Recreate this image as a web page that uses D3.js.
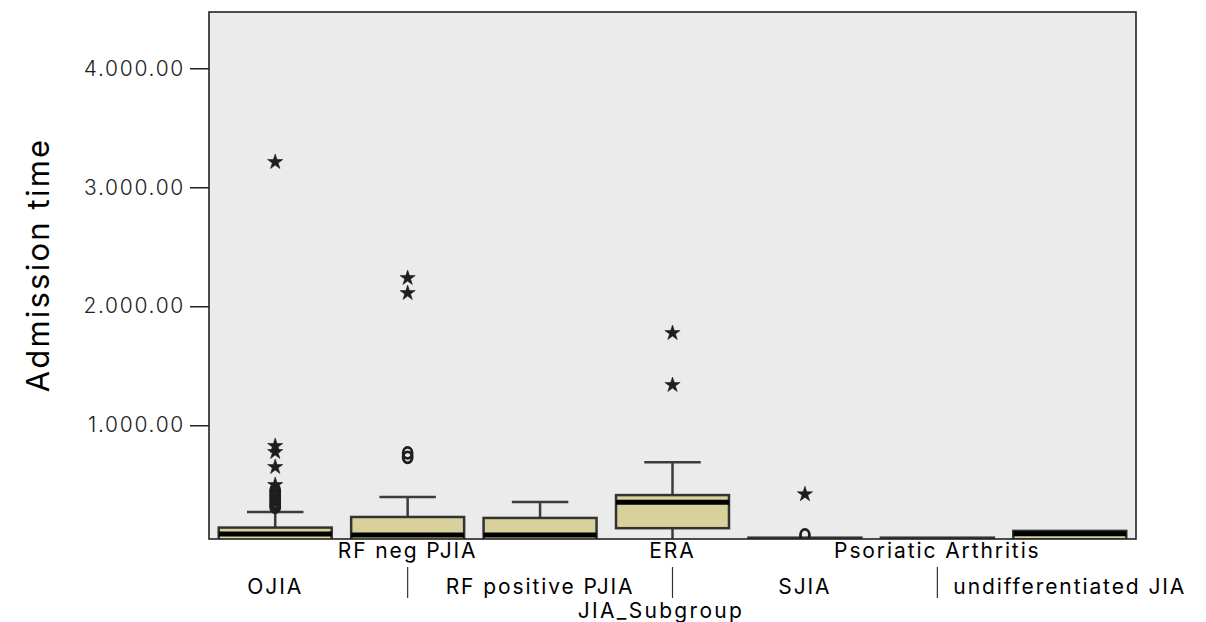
<!DOCTYPE html>
<html><head><meta charset="utf-8">
<script src="https://cdn.jsdelivr.net/npm/d3@7"></script>
<style>
html,body{margin:0;padding:0;background:#fff;}
svg{display:block;font-family:Inter,"Open Sans",sans-serif;}
</style></head>
<body><svg id="chart" width="1206" height="622"></svg>
<script>
const categories = ["OJIA","RF neg PJIA","RF positive PJIA","ERA","SJIA","Psoriatic Arthritis","undifferentiated JIA"];
const whiskerLow  = [0, 0, 0, 0, 0, 0, 0];
const q1          = [20, 20, 20, 135, 10, 10, 40];
const median      = [85, 78, 78, 352, 20, 20, 88];
const q3          = [140, 229, 221, 413, 55, 55, 112];
const whiskerHigh = [271, 397, 355, 690, 55, 55, 112];
const circleOutliers = [
  [456, 440, 414, 395, 372, 350, 330, 310],
  [767, 730],
  [],
  [],
  [78],
  [],
  []
];
const starOutliers = [
  [3212, 826, 775, 649, 498],
  [2237, 2111],
  [],
  [1775, 1338],
  [420],
  [],
  []
];
const yTicks = [1000, 2000, 3000, 4000];
const xTitle = "JIA_Subgroup";
const yTitle = "Admission time";

const svg = d3.select("#chart");
const L = 209, R = 1136, T = 12, B = 539;

const x = d3.scaleBand().domain(categories).range([L, R]).paddingInner(0.147).paddingOuter(0.0735);
const y = d3.scaleLinear().domain([44, 4473]).range([B, T]);

svg.append("defs").append("clipPath").attr("id", "plotclip")
  .append("rect").attr("x", L).attr("y", T).attr("width", R - L).attr("height", B - T);

svg.append("rect").attr("x", L).attr("y", T).attr("width", R - L).attr("height", B - T)
  .attr("fill", "#ebebeb");

const g = svg.append("g").attr("clip-path", "url(#plotclip)");
const data = categories.map((c, i) => ({c, i}));
const bw = x.bandwidth();
const cx = c => x(c) + bw / 2;

// whiskers
g.selectAll(".wh").data(data).join("line")
  .attr("x1", d => cx(d.c)).attr("x2", d => cx(d.c))
  .attr("y1", d => y(q3[d.i])).attr("y2", d => y(whiskerHigh[d.i]))
  .attr("stroke", "#3c3c3c").attr("stroke-width", 2.5);
g.selectAll(".wl").data(data).join("line")
  .attr("x1", d => cx(d.c)).attr("x2", d => cx(d.c))
  .attr("y1", d => y(q1[d.i])).attr("y2", d => y(whiskerLow[d.i]))
  .attr("stroke", "#3c3c3c").attr("stroke-width", 2.5);
g.selectAll(".cap").data(data.filter(d => whiskerHigh[d.i] > q3[d.i])).join("line")
  .attr("x1", d => cx(d.c) - bw / 4).attr("x2", d => cx(d.c) + bw / 4)
  .attr("y1", d => y(whiskerHigh[d.i])).attr("y2", d => y(whiskerHigh[d.i]))
  .attr("stroke", "#3c3c3c").attr("stroke-width", 2.5);

// boxes
g.selectAll(".box").data(data).join("rect")
  .attr("x", d => x(d.c)).attr("width", bw)
  .attr("y", d => y(q3[d.i])).attr("height", d => y(q1[d.i]) - y(q3[d.i]))
  .attr("fill", "#d8d19c").attr("stroke", "#333").attr("stroke-width", 2.5);
g.selectAll(".med").data(data).join("line")
  .attr("x1", d => x(d.c)).attr("x2", d => x(d.c) + bw)
  .attr("y1", d => y(median[d.i])).attr("y2", d => y(median[d.i]))
  .attr("stroke", "#000").attr("stroke-width", 5);

// outliers
const circ = data.flatMap(d => circleOutliers[d.i].map(v => ({c: d.c, v})));
g.selectAll(".oc").data(circ).join("ellipse")
  .attr("cx", d => cx(d.c)).attr("cy", d => y(d.v)).attr("rx", 4.5).attr("ry", 5.5)
  .attr("fill", "none").attr("stroke", "#1e1e1e").attr("stroke-width", 2.8);
const stars = data.flatMap(d => starOutliers[d.i].map(v => ({c: d.c, v})));
const starPath = d3.symbol(d3.symbolStar).size(72)();
g.selectAll(".os").data(stars).join("path")
  .attr("d", starPath)
  .attr("transform", d => `translate(${cx(d.c)},${y(d.v)})`)
  .attr("fill", "#1e1e1e").attr("stroke", "#1e1e1e").attr("stroke-width", 0.6);

// frame
svg.append("rect").attr("x", L).attr("y", T).attr("width", R - L).attr("height", B - T)
  .attr("fill", "none").attr("stroke", "#222").attr("stroke-width", 1.6);

// y axis
const fmt = v => d3.format(",.2f")(v).replace(/,/g, ".");
const ya = svg.append("g").attr("transform", `translate(${L},0)`)
  .call(d3.axisLeft(y).tickValues(yTicks).tickSize(19).tickPadding(5).tickFormat(fmt));
ya.select(".domain").remove();
ya.selectAll(".tick line").attr("stroke", "#222").attr("stroke-width", 1.5);
ya.selectAll(".tick text").attr("font-family", "Inter, sans-serif").attr("font-size", 21)
  .attr("letter-spacing", 1.7).attr("fill", "#222").attr("font-weight", 300);

// x labels (staggered)
const xl = svg.append("g");
xl.selectAll("text").data(data).join("text")
  .attr("x", d => cx(d.c))
  .attr("y", d => d.i % 2 === 1 ? 558 : 594)
  .attr("text-anchor", "middle")
  .attr("font-size", 21).attr("letter-spacing", 1.9).attr("font-weight", 400).attr("fill", "#000")
  .text(d => d.c);
xl.selectAll("line").data(data.filter(d => d.i % 2 === 1)).join("line")
  .attr("x1", d => cx(d.c)).attr("x2", d => cx(d.c))
  .attr("y1", 567).attr("y2", 598).attr("stroke", "#333").attr("stroke-width", 1.2);

svg.append("text").attr("x", 661).attr("y", 618).attr("text-anchor", "middle")
  .attr("font-size", 21).attr("letter-spacing", 2.3).attr("font-weight", 400).attr("fill", "#000")
  .text(xTitle);
svg.append("text").attr("transform", "translate(49,265) rotate(-90)").attr("text-anchor", "middle")
  .attr("font-size", 31).attr("letter-spacing", 2.2).attr("font-weight", 400).attr("fill", "#000")
  .text(yTitle);
</script></body></html>
